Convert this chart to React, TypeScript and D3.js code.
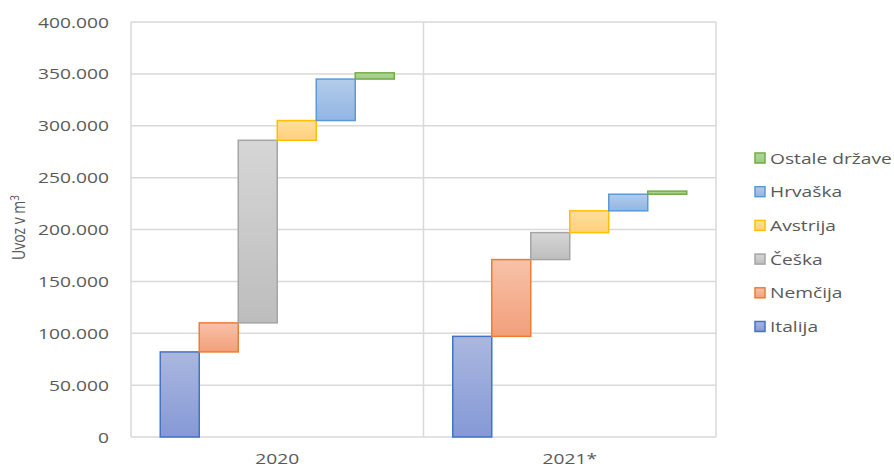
import React from 'react';
import * as d3 from 'd3';

const categories = ['2020', '2021*'];
const countries = ['Italija', 'Nemčija', 'Češka', 'Avstrija', 'Hrvaška', 'Ostale države'];
// increments per country (waterfall)
const values2020 = [82000, 28000, 176000, 19000, 40000, 6000];
const values2021 = [97000, 74000, 26000, 21000, 16000, 3000];
const yTicks = [0, 50000, 100000, 150000, 200000, 250000, 300000, 350000, 400000];

const strokes = ['#4472C4', '#ED7D31', '#A5A5A5', '#FFC000', '#5B9BD5', '#70AD47'];
const fillTop = ['#AAB7DF', '#F7C2A9', '#D6D6D6', '#FFDE9C', '#B3CCEB', '#B2D69C'];
const fillBottom = ['#8599D6', '#F29F7A', '#BDBDBD', '#FFD17B', '#92B5E3', '#9CCB80'];

const W = 894;
const H = 467;
const margin = { top: 22, right: 178, bottom: 30, left: 131 };
const SX = 1.28; // text in the picture is stretched horizontally
const textColor = '#595959';
const font = "'Open Sans', sans-serif";

const Txt: React.FC<{ x: number; y: number; anchor?: string; size?: number; children: React.ReactNode }> = ({ x, y, anchor = 'start', size = 15, children }) => (
  <g transform={`translate(${x},${y}) scale(${SX},1)`}>
    <text x={0} y={0} textAnchor={anchor} fontSize={size} fill={textColor} fontFamily={font}>
      {children}
    </text>
  </g>
);

const fmt = (v: number) => d3.format(',')(v).replace(/,/g, '.');

export default function App() {
  const innerW = W - margin.left - margin.right;
  const y = d3.scaleLinear().domain([0, 400000]).range([H - margin.bottom, margin.top]);
  const x = d3.scaleBand().domain(categories).range([margin.left, W - margin.right]);
  const bw = x.bandwidth();
  const inner = d3.scaleBand().domain(countries).range([bw * 0.1, bw * 0.9]);

  const series = [values2020, values2021];

  return (
    <div style={{ position: 'fixed', left: 0, top: 0, width: W, height: H, background: '#fff' }}>
      <svg width={W} height={H} style={{ display: 'block' }}>
        <defs>
          {countries.map((c, i) => (
            <linearGradient key={c} id={`grad${i}`} x1="0" y1="0" x2="0" y2="1">
              <stop offset="0%" stopColor={fillTop[i]} />
              <stop offset="100%" stopColor={fillBottom[i]} />
            </linearGradient>
          ))}
        </defs>

        {/* horizontal gridlines */}
        {yTicks.map(t => (
          <line key={t} x1={margin.left} x2={margin.left + innerW} y1={y(t)} y2={y(t)} stroke="#D9D9D9" strokeWidth={1.5} />
        ))}
        {/* vertical category gridlines */}
        {[margin.left, x('2021*')!, margin.left + innerW].map((vx, i) => (
          <line key={i} x1={vx} x2={vx} y1={y(400000)} y2={y(0)} stroke="#D9D9D9" strokeWidth={1.5} />
        ))}

        {/* y tick labels */}
        {yTicks.map(t => (
          <Txt key={t} x={109} y={y(t) + 5.5} anchor="end">{fmt(t)}</Txt>
        ))}

        {/* y axis title */}
        <g transform={`translate(25,${(margin.top + H - margin.bottom) / 2 - 2}) scale(${SX},1) rotate(-90)`}>
          <text x={0} y={0} textAnchor="middle" fontSize={14} fill={textColor} fontFamily={font}>
            Uvoz v m<tspan dy={-5} fontSize={10}>3</tspan>
          </text>
        </g>

        {/* bars */}
        {categories.map((cat, ci) => {
          const vals = series[ci];
          const ends = Array.from(d3.cumsum(vals));
          return vals.map((v, i) => {
            const start = ends[i] - v;
            const bx = x(cat)! + inner(countries[i])!;
            return (
              <rect
                key={`${cat}-${i}`}
                x={bx}
                y={y(ends[i])}
                width={inner.bandwidth()}
                height={y(start) - y(ends[i])}
                fill={`url(#grad${i})`}
                stroke={strokes[i]}
                strokeWidth={1.5}
              />
            );
          });
        })}

        {/* x labels */}
        {categories.map(cat => (
          <Txt key={cat} x={x(cat)! + bw / 2} y={464} anchor="middle" size={15}>{cat}</Txt>
        ))}

        {/* legend */}
        {countries.slice().reverse().map((c, k) => {
          const i = countries.length - 1 - k;
          const ly = 158 + k * 33.7;
          return (
            <g key={c}>
              <rect x={755} y={ly - 5} width={10} height={10} fill={`url(#grad${i})`} stroke={strokes[i]} strokeWidth={1.5} />
              <Txt x={770} y={ly + 5.5}>{c}</Txt>
            </g>
          );
        })}
      </svg>
    </div>
  );
}
